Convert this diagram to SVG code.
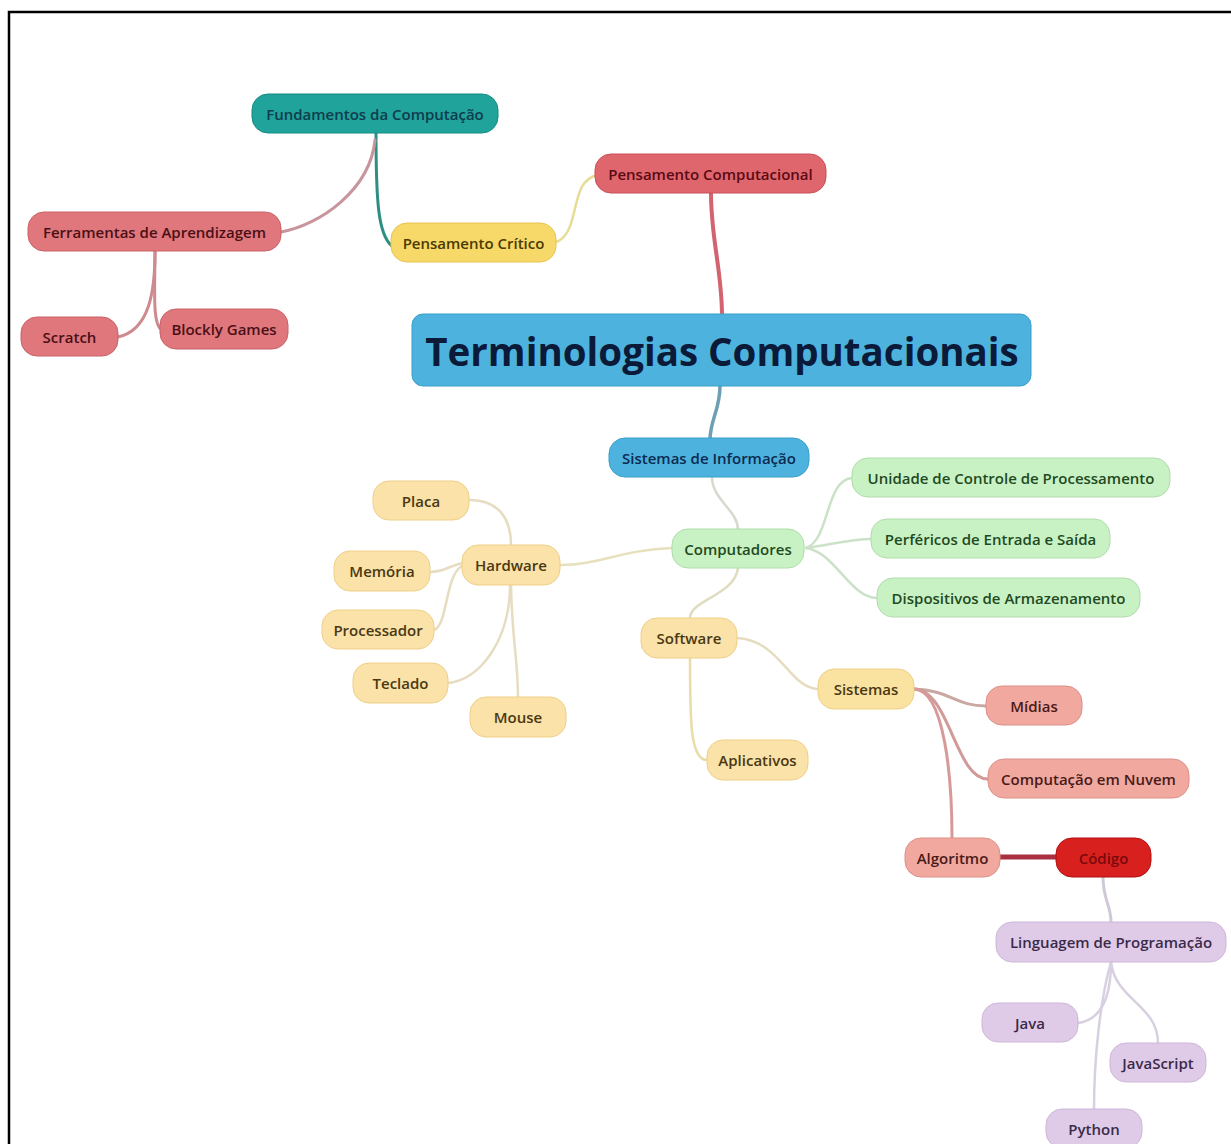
<svg xmlns="http://www.w3.org/2000/svg" width="1231" height="1144" viewBox="0 0 1231 1144">
<style>
text{font-family:"Open Sans","Noto Sans","DejaVu Sans",sans-serif;font-size:15px;font-weight:600;text-anchor:middle;dominant-baseline:central}
.c{fill:none;stroke-linecap:round}
.teal rect{fill:#1fa39a;stroke:#178a82}.teal text{fill:#0f3c4c}
.red rect{fill:#e0666e;stroke:#c85058}.red text{fill:#5a0a14}
.pink rect{fill:#e0777d;stroke:#c86268}.pink text{fill:#4a1015}
.yel rect{fill:#f7d96a;stroke:#e8c450}.yel text{fill:#4a3a00}
.blue rect{fill:#4db3de;stroke:#3a9ec8}.blue text{fill:#0b2a50}
.grn rect{fill:#c9f2c4;stroke:#b0dcaa}.grn text{fill:#1f4a22}
.org rect{fill:#fae2a8;stroke:#efcf88}.org text{fill:#4a3812}
.sal rect{fill:#f1a89f;stroke:#dc9088}.sal text{fill:#4a1a18}
.cod rect{fill:#d8211f;stroke:#b01010}.cod text{fill:#7a0a0a}
.lav rect{fill:#dfcbe8;stroke:#cdb7d8}.lav text{fill:#3a2a48}
</style>
<rect width="1231" height="1144" fill="#ffffff"/>
<path d="M9,1144 V12 H1231" fill="none" stroke="#000" stroke-width="2.5"/>
<g id="connectors">
<path class="c" d="M722,316 C722,270 711,240 711,193" stroke="#d2636f" stroke-width="4"/>
<path class="c" d="M720,386 C720,410 710,420 710,440" stroke="#6f9fb4" stroke-width="3.5"/>
<path class="c" d="M597,175 C578,180 578,200 572,220 C568,235 562,240 556,242" stroke="#e6dc96" stroke-width="2.5"/>
<path class="c" d="M392,246 C378,235 376,200 376,133" stroke="#2d8f84" stroke-width="3"/>
<path class="c" d="M375,140 C370,190 320,225 281,232" stroke="#c8959c" stroke-width="3"/>
<path class="c" d="M155,251 C155,290 150,330 118,337" stroke="#cf8a90" stroke-width="3"/>
<path class="c" d="M155,251 C155,290 152,325 162,330" stroke="#cf8a90" stroke-width="3"/>
<path class="c" d="M712,477 C712,500 738,510 738,530" stroke="#d8d8cc" stroke-width="2.5"/>
<path class="c" d="M806,548 C830,540 825,480 852,478" stroke="#cce2c8" stroke-width="2.5"/>
<path class="c" d="M806,548 C830,545 850,539 871,539" stroke="#cce2c8" stroke-width="2.5"/>
<path class="c" d="M806,548 C835,552 850,598 877,598" stroke="#cce2c8" stroke-width="2.5"/>
<path class="c" d="M672,548 C620,550 600,565 560,565" stroke="#e6e0bc" stroke-width="2.5"/>
<path class="c" d="M738,568 C735,595 690,600 690,618" stroke="#e0dcc0" stroke-width="2.5"/>
<path class="c" d="M511,545 C511,520 500,500 469,500" stroke="#e6dcc0" stroke-width="2.5"/>
<path class="c" d="M464,563 C450,565 445,572 430,572" stroke="#e6dcc0" stroke-width="2.5"/>
<path class="c" d="M462,566 C445,575 448,625 434,630" stroke="#e6dcc0" stroke-width="2.5"/>
<path class="c" d="M510,585 C510,640 480,680 448,683" stroke="#e6dcc0" stroke-width="2.5"/>
<path class="c" d="M511,585 C512,640 518,660 518,697" stroke="#e6dcc0" stroke-width="2.5"/>
<path class="c" d="M690,658 C690,720 690,760 707,760" stroke="#e8dca8" stroke-width="2.5"/>
<path class="c" d="M737,638 C780,640 790,689 818,689" stroke="#e6dcc0" stroke-width="2.5"/>
<path class="c" d="M914,689 C950,690 955,706 986,706" stroke="#c8a8a0" stroke-width="3"/>
<path class="c" d="M914,689 C950,690 955,779 988,779" stroke="#d09a98" stroke-width="3"/>
<path class="c" d="M914,689 C945,690 952,780 952,838" stroke="#d79a9a" stroke-width="3"/>
<path class="c" d="M1000,857 L1056,857" stroke="#a83040" stroke-width="5"/>
<path class="c" d="M1103,877 C1103,900 1111,905 1111,922" stroke="#d0c8d8" stroke-width="3"/>
<path class="c" d="M1111,962 C1111,1000 1100,1020 1078,1023" stroke="#d8d0e0" stroke-width="2.5"/>
<path class="c" d="M1111,962 C1115,1000 1158,1005 1158,1043" stroke="#d8d0e0" stroke-width="2.5"/>
<path class="c" d="M1111,962 C1100,1000 1094,1060 1094,1109" stroke="#d8d0e0" stroke-width="2.5"/>
</g>
<g id="central" class="blue"><rect x="412" y="314" width="619" height="72" rx="11"/><text x="722" y="351" style="font-size:38.5px;font-weight:700;fill:#0a1a38">Terminologias Computacionais</text></g>
<g id="fundamentos" class="teal"><rect x="252" y="94" width="246" height="39" rx="16"/><text x="375" y="113.5">Fundamentos da Computação</text></g>
<g id="pensamento-computacional" class="red"><rect x="595" y="154" width="231" height="39" rx="16"/><text x="710.5" y="173.5">Pensamento Computacional</text></g>
<g id="ferramentas" class="pink"><rect x="28" y="212" width="253" height="39" rx="16"/><text x="154.5" y="231.5">Ferramentas de Aprendizagem</text></g>
<g id="pensamento-critico" class="yel"><rect x="391" y="223" width="165" height="39" rx="16"/><text x="473.5" y="242.5">Pensamento Crítico</text></g>
<g id="scratch" class="pink"><rect x="21" y="317" width="97" height="39" rx="16"/><text x="69.5" y="336.5">Scratch</text></g>
<g id="blockly" class="pink"><rect x="160" y="309" width="128" height="40" rx="16"/><text x="224" y="329">Blockly Games</text></g>
<g id="sistemas-informacao" class="blue"><rect x="609" y="438" width="200" height="39" rx="16"/><text x="709" y="457.5">Sistemas de Informação</text></g>
<g id="unidade" class="grn"><rect x="852" y="458" width="318" height="39" rx="16"/><text x="1011" y="477.5">Unidade de Controle de Processamento</text></g>
<g id="computadores" class="grn"><rect x="672" y="529" width="132" height="39" rx="16"/><text x="738" y="548.5">Computadores</text></g>
<g id="perifericos" class="grn"><rect x="871" y="519" width="239" height="39" rx="16"/><text x="990.5" y="538.5">Perféricos de Entrada e Saída</text></g>
<g id="dispositivos" class="grn"><rect x="877" y="578" width="263" height="39" rx="16"/><text x="1008.5" y="597.5">Dispositivos de Armazenamento</text></g>
<g id="placa" class="org"><rect x="373" y="481" width="96" height="39" rx="16"/><text x="421" y="500.5">Placa</text></g>
<g id="hardware" class="org"><rect x="462" y="545" width="98" height="40" rx="16"/><text x="511" y="565">Hardware</text></g>
<g id="memoria" class="org"><rect x="334" y="551" width="96" height="40" rx="16"/><text x="382" y="571">Memória</text></g>
<g id="processador" class="org"><rect x="322" y="610" width="112" height="39" rx="16"/><text x="378" y="629.5">Processador</text></g>
<g id="teclado" class="org"><rect x="353" y="663" width="95" height="40" rx="16"/><text x="400.5" y="683">Teclado</text></g>
<g id="mouse" class="org"><rect x="470" y="697" width="96" height="40" rx="16"/><text x="518" y="717">Mouse</text></g>
<g id="software" class="org"><rect x="641" y="618" width="96" height="40" rx="16"/><text x="689" y="638">Software</text></g>
<g id="aplicativos" class="org"><rect x="707" y="740" width="101" height="40" rx="16"/><text x="757.5" y="760">Aplicativos</text></g>
<g id="sistemas" class="org"><rect x="818" y="669" width="96" height="40" rx="16" style="fill:#fae3a0"/><text x="866" y="689">Sistemas</text></g>
<g id="midias" class="sal"><rect x="986" y="686" width="96" height="39" rx="16"/><text x="1034" y="705.5">Mídias</text></g>
<g id="nuvem" class="sal"><rect x="988" y="759" width="201" height="39" rx="16"/><text x="1088.5" y="778.5">Computação em Nuvem</text></g>
<g id="algoritmo" class="sal"><rect x="905" y="838" width="95" height="39" rx="16"/><text x="952.5" y="857.5">Algoritmo</text></g>
<g id="codigo" class="cod"><rect x="1056" y="838" width="95" height="39" rx="16"/><text x="1103.5" y="857.5">Código</text></g>
<g id="linguagem" class="lav"><rect x="996" y="922" width="230" height="40" rx="16"/><text x="1111" y="942">Linguagem de Programação</text></g>
<g id="java" class="lav"><rect x="982" y="1003" width="96" height="39" rx="16"/><text x="1030" y="1022.5">Java</text></g>
<g id="javascript" class="lav"><rect x="1110" y="1043" width="96" height="39" rx="16"/><text x="1158" y="1062.5">JavaScript</text></g>
<g id="python" class="lav"><rect x="1046" y="1109" width="96" height="39" rx="16"/><text x="1094" y="1128.5">Python</text></g>
</svg>
